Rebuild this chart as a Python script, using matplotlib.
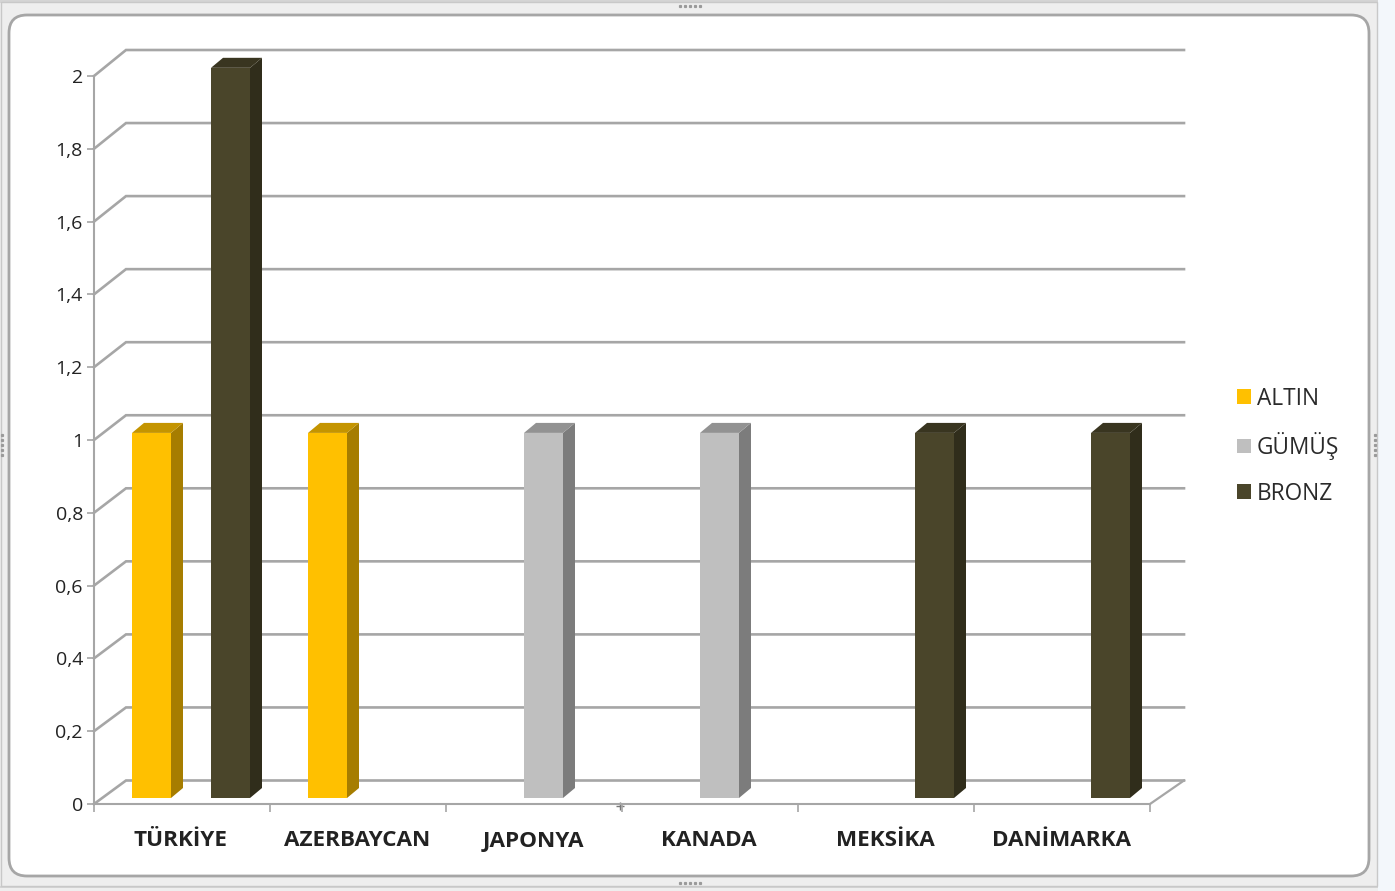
import matplotlib
matplotlib.use("Agg")
import matplotlib.pyplot as plt
from matplotlib.patches import Polygon, FancyBboxPatch, Rectangle

categories = ["TÜRKİYE", "AZERBAYCAN", "JAPONYA", "KANADA", "MEKSİKA", "DANİMARKA"]
altin = [1, 1, 0, 0, 0, 0]
gumus = [0, 0, 1, 1, 0, 0]
bronz = [2, 0, 0, 0, 1, 1]
y_ticks = [0, 0.2, 0.4, 0.6, 0.8, 1, 1.2, 1.4, 1.6, 1.8, 2]
y_labels = ["0", "0,2", "0,4", "0,6", "0,8", "1", "1,2", "1,4", "1,6", "1,8", "2"]

W, H = 1395, 891
plt.rcParams['font.family'] = ['Open Sans', 'DejaVu Sans']
fig = plt.figure(figsize=(W / 100, H / 100), dpi=100, facecolor="#eeeeee")

# window frame
bg = fig.add_axes([0, 0, 1, 1], zorder=0)
bg.set_xlim(0, W); bg.set_ylim(H, 0); bg.axis("off")
bg.add_patch(Rectangle((1378, 0), 17, H, fc="#f3f7fb", ec="none"))
bg.add_patch(Rectangle((0, 0), 1378, 3, fc="#d4d4d4", ec="none"))
bg.add_patch(Rectangle((0, 886), 1378, 2, fc="#d4d4d4", ec="none"))
bg.add_patch(Rectangle((1, 2), 1376, 884, fc="none", ec="#c8c8c8", lw=1))
bg.add_patch(FancyBboxPatch((21, 27), 1336, 837, boxstyle="round,pad=12,rounding_size=18",
                            fc="white", ec="#a6a6a6", lw=2))
for cx, cy in [(690, 6), (690, 883), (2, 445), (1375, 445)]:
    for k in range(-2, 3):
        px, py = (cx + k * 5, cy) if cy < 10 or cy > 880 else (cx, cy + k * 5)
        bg.plot([px], [py], "s", ms=1.3, color="#9a9a9a")
bg.plot([620], [806], "+", ms=6, mew=1, color="#777777")

# chart geometry: 1 category = 176 px, 1 y unit = 364 px
ax = fig.add_axes([94 / W, 1 - 804 / H, 1056 / W, 728 / H], zorder=1)
ax.patch.set_alpha(0)
ax.set_xlim(0, 6)
ax.set_ylim(0, 2)
PX = 1 / 176
PY = 1 / 364
GRID = "#a6a6a6"

# 3D wall gridlines
for v in y_ticks:
    dy = (23.5 + 1.25 * v) * PY
    ax.plot([0, 32 * PX, 6 + 34 * PX], [v, v + dy, v + dy], color=GRID, lw=1.9,
            clip_on=False, zorder=1, solid_joinstyle="miter")
# floor edge
ax.plot([6, 6 + 34 * PX], [0, 23.5 * PY], color=GRID, lw=1.6, clip_on=False, zorder=1)

series = [
    ("ALTIN", altin, 57.5, "#ffc000", "#a67d00", "#c49400"),
    ("GÜMÜŞ", gumus, 97.5, "#bfbfbf", "#7c7c7c", "#929292"),
    ("BRONZ", bronz, 136.5, "#4a452a", "#302d1b", "#393520"),
]
bar_w = 39 * PX
lift = 6 * PY
side_x = 12 * PX
side_y = 10 * PY
handles = []
for name, vals, off, front, side, top in series:
    xs = [i + off * PX for i in range(len(categories))]
    ax.bar(xs, [v * 1.003 for v in vals], width=bar_w, bottom=lift, color=front,
           zorder=4, label=name, clip_on=False)
    handles.append(Rectangle((0, 0), 1, 1, fc=front, ec="none"))
    for x, v in zip(xs, vals):
        if not v:
            continue
        x0, x1 = x - bar_w / 2, x + bar_w / 2
        y0, y1 = lift, lift + v * 1.003
        ax.add_patch(Polygon([(x1, y0), (x1 + side_x, y0 + side_y), (x1 + side_x, y1 + side_y), (x1, y1)],
                             fc=side, ec="none", zorder=3, clip_on=False))
        ax.add_patch(Polygon([(x0, y1), (x1, y1), (x1 + side_x, y1 + side_y), (x0 + side_x, y1 + side_y)],
                             fc=top, ec="none", zorder=3, clip_on=False))

# axes
for s in ("top", "right"):
    ax.spines[s].set_visible(False)
for s in ("left", "bottom"):
    ax.spines[s].set_color(GRID)
    ax.spines[s].set_linewidth(1.5)
    ax.spines[s].set_zorder(2)
ax.set_yticks(y_ticks)
ax.set_yticklabels(y_labels, fontsize=14, color="#222222")
ax.tick_params(axis="y", length=5, width=1.2, color=GRID, pad=3)
ax.set_xticks(range(len(categories) + 1))
ax.set_xticklabels([""] * (len(categories) + 1))
ax.tick_params(axis="x", length=6, width=1.2, color=GRID)
for i, c in enumerate(categories):
    ax.annotate(c, xy=(i + 0.5, 0), xycoords="data", xytext=(-1, -37), textcoords="offset pixels",
                ha="center", va="center", fontsize=16.2, fontweight="bold", color="#222222")

fig.legend(handles, [s[0] for s in series], loc="upper left",
           bbox_to_anchor=(1232 / W, 1 - 382 / H), bbox_transform=fig.transFigure,
           frameon=False, fontsize=16.3, labelcolor="#2a2a2a", handlelength=0.62, handleheight=0.62,
           handletextpad=0.28, labelspacing=0.95, borderpad=0.2, borderaxespad=0)

fig.savefig("out.png", dpi=100, facecolor=fig.get_facecolor())
